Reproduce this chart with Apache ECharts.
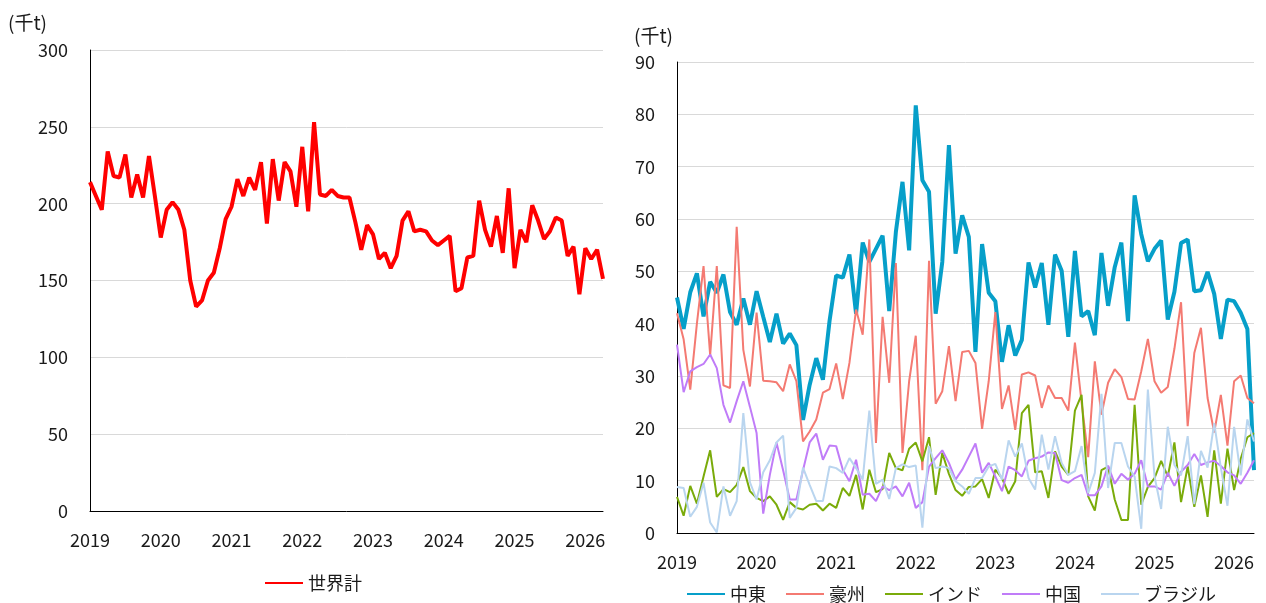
<!DOCTYPE html>
<html><head><meta charset="utf-8">
<script src="https://cdn.jsdelivr.net/npm/echarts@6/dist/echarts.min.js"></script>
<style>html,body{margin:0;padding:0;background:#fff}#c{width:1266px;height:603px}</style>
</head><body><div id="c"></div>
<script>
// months 2019-01 .. 2026-04
const months = [];
for (let y = 2019; y <= 2026; y++) for (let m = 1; m <= 12; m++) { if (y === 2026 && m > 4) break; months.push(y + '-' + (m < 10 ? '0' + m : m)); }

const worldTotal = [
 214,205,196,234,218,217,232,204,219,204,231,205,
 178,196,201,196,183,150,133,137,150,155,171,190,
 198,216,205,217,209,227,187,229,202,227,221,198,
 237,195,253,206,205,209,205,204,204,188,170,186,
 180,164,168,158,166,189,195,182,183,182,176,173,
 176,179,143,145,165,166,202,183,172,192,168,210,
 158,183,175,199,189,177,182,191,189,166,172,141,
 171,164,170,151];

const middleEast = [
 45.0,39.0,46.0,49.6,41.4,48.0,45.9,49.4,42.2,39.8,44.8,39.8,
 46.2,41.3,36.5,41.9,36.2,38.1,35.9,21.6,28.3,33.4,29.3,40.5,
 49.2,48.8,53.2,41.9,55.5,51.8,54.3,56.8,42.4,57.5,67.1,54.0,
 81.7,67.4,65.2,41.9,51.8,74.1,53.4,60.7,56.6,34.6,55.2,45.9,
 44.3,32.7,39.7,33.9,36.9,51.7,46.9,51.6,39.8,53.2,50.1,37.5,
 53.9,41.4,42.4,37.8,53.5,43.4,50.8,55.5,40.5,64.5,57.1,51.9,
 54.3,55.9,40.8,46.1,55.4,56.1,46.2,46.4,49.9,45.7,37.1,44.6,
 44.3,42.1,39.0,12.0];

const australia = [
 42,37,27.4,40,51,34,51,28.2,27.7,58.5,35,28,
 42.1,29.1,29,28.8,27.1,32.2,29.0,17.5,19.4,21.7,26.8,27.5,
 32.4,25.6,32.5,42.7,37.9,56.1,17.2,41.3,28.7,51.6,15.3,29.0,
 37.7,12.0,52.0,24.7,27.1,35.7,25.2,34.6,34.8,32.5,19.9,29.0,
 42.2,23.7,28.2,19.7,30.3,30.7,30.1,23.9,28.2,25.8,25.8,23.4,
 36.4,25,14.5,32.8,22.6,28.7,31.3,29.8,25.6,25.5,30.9,37.1,
 29.0,26.8,27.9,35.2,44.1,20.4,34.4,39.2,25.8,19.2,26.4,16.7,
 29.0,30.1,25.8,24.8];

const india = [
 6.9,3.3,9.0,5.6,10.8,15.8,6.9,8.4,7.8,9.2,12.6,8.0,
 6.7,6.1,7.0,5.4,2.5,5.9,4.8,4.5,5.4,5.6,4.3,5.6,
 4.8,8.6,7.1,11.1,4.5,12.1,7.8,8.4,15.3,12.4,12.0,16.1,
 17.3,13.7,18.3,7.3,15.3,11.3,8.2,7.1,8.8,8.9,10.3,6.7,
 12.1,10.5,7.5,9.9,22.9,24.5,11.6,11.8,6.7,15.6,12.7,11.1,
 23.4,26.4,7.0,4.3,12.0,12.7,6.4,2.5,2.5,24.5,5.4,8.8,
 10.5,13.8,10.8,17.3,5.9,12.7,5.0,11.0,3.1,15.8,5.6,16.1,
 8.2,14.2,18.3,19.1];

const china = [
 36.0,26.9,30.9,31.7,32.3,34.1,31.5,24.5,21.1,25.2,29.0,24.1,
 19.1,3.7,11.1,17.3,12,6.4,6.4,12,17.3,19.0,14.0,16.7,
 16.6,12.1,9.9,14.0,7.3,7.5,6.1,8.9,8.2,8.9,7.0,9.6,
 4.8,5.9,12.7,14.3,15.8,13.4,10.2,12.1,14.6,17.1,11.5,13.4,
 10.8,8.0,12.7,12.0,10.8,13.8,14.3,14.6,15.4,15.3,10.1,9.6,
 10.5,11.1,7.2,7.2,8.9,12.9,9.4,11.3,10.2,11.3,13.9,8.9,
 8.9,8.3,11.5,9.0,11.7,13.0,15.1,13.0,13.5,13.8,12.8,11.6,
 11.0,9.4,11.5,13.9];

const brazil = [
 8.8,8.6,3.1,5.0,9.6,2.0,0.1,8.9,3.3,6.1,22.9,9.7,
 6.4,11.6,13.9,17.3,18.6,2.9,4.8,12.5,9.2,6.1,6.1,12.7,
 12.4,11.5,14.3,12.4,10.2,23.4,9.4,10.2,6.5,12.4,13.1,12.6,
 12.9,1.0,16.6,12.4,12.7,12.4,9.9,8.9,7.5,10.5,10.5,12.7,
 13.2,10.2,17.7,14.6,17.1,10.5,8.3,18.8,12.1,18.5,13.4,11.1,
 11.8,16.6,7.6,11.5,26.6,8.6,17.2,17.2,12.7,10.8,0.8,27.4,
 10.8,4.6,20.3,13,11,18.5,5.5,15.7,12.5,21.0,12.5,5.2,
 20.3,11,21.7,17.5];

const unitLabel = '(千t)';
const leftYTicks = {min: 0, max: 300, interval: 50};
const rightYTicks = {min: 0, max: 90, interval: 10};

const FONT = '"Noto Sans CJK JP", "Noto Sans", sans-serif';
const TXT = '#1a1a1a';

const xLabel = {
  interval: function (i) { return i % 12 === 0; },
  formatter: function (v) { return v.slice(0, 4); },
  color: TXT, fontSize: 18, fontFamily: FONT, margin: 20
};
const yLabel = {color: TXT, fontSize: 18, fontFamily: FONT, margin: 22};
const gridLine = {show: true, lineStyle: {color: '#d9d9d9', width: 1}};
const axisLine = {show: true, lineStyle: {color: '#000', width: 1}};
const legendCommon = {itemWidth: 38, itemHeight: 12, itemStyle: {opacity: 0}, textStyle: {color: TXT, fontSize: 18, fontFamily: FONT}};

const chart = echarts.init(document.getElementById('c'), null, {renderer: 'canvas'});
chart.setOption({
  animation: false,
  backgroundColor: '#fff',
  textStyle: {fontFamily: FONT},
  grid: [
    {left: 90, right: 663, top: 50, bottom: 92},
    {left: 677, right: 12, top: 62, bottom: 70}
  ],
  graphic: [
    {type: 'text', left: 8, top: 13, style: {text: unitLabel, fontSize: 19, fontFamily: FONT, fill: TXT}},
    {type: 'text', left: 634, top: 26, style: {text: unitLabel, fontSize: 19, fontFamily: FONT, fill: TXT}}
  ],
  xAxis: [
    {type: 'category', gridIndex: 0, data: months, boundaryGap: false, axisTick: {show: false}, axisLine: axisLine, axisLabel: xLabel, splitLine: {show: false}},
    {type: 'category', gridIndex: 1, data: months, boundaryGap: false, axisTick: {show: false}, axisLine: axisLine, axisLabel: xLabel, splitLine: {show: false}}
  ],
  yAxis: [
    {type: 'value', gridIndex: 0, min: leftYTicks.min, max: leftYTicks.max, interval: leftYTicks.interval, axisLine: axisLine, axisTick: {show: false}, axisLabel: yLabel, splitLine: gridLine},
    {type: 'value', gridIndex: 1, min: rightYTicks.min, max: rightYTicks.max, interval: rightYTicks.interval, axisLine: axisLine, axisTick: {show: false}, axisLabel: yLabel, splitLine: gridLine}
  ],
  legend: [
    Object.assign({data: ['世界計'], left: 259, top: 569, itemGap: 24}, legendCommon),
    Object.assign({data: ['中東', '豪州', 'インド', '中国', 'ブラジル'], left: 681, top: 580, itemGap: 19}, legendCommon)
  ],
  series: [
    {name: '世界計', type: 'line', xAxisIndex: 0, yAxisIndex: 0, data: worldTotal, symbol: 'none', lineStyle: {color: '#ff0000', width: 4}, itemStyle: {color: '#ff0000'}},
    {name: '中東', type: 'line', xAxisIndex: 1, yAxisIndex: 1, data: middleEast, symbol: 'none', lineStyle: {color: '#069fc9', width: 4}, itemStyle: {color: '#069fc9'}},
    {name: '豪州', type: 'line', xAxisIndex: 1, yAxisIndex: 1, data: australia, symbol: 'none', lineStyle: {color: '#f47a72', width: 2}, itemStyle: {color: '#f47a72'}},
    {name: 'インド', type: 'line', xAxisIndex: 1, yAxisIndex: 1, data: india, symbol: 'none', lineStyle: {color: '#7aab0a', width: 2}, itemStyle: {color: '#7aab0a'}},
    {name: '中国', type: 'line', xAxisIndex: 1, yAxisIndex: 1, data: china, symbol: 'none', lineStyle: {color: '#c07cf8', width: 2}, itemStyle: {color: '#c07cf8'}},
    {name: 'ブラジル', type: 'line', xAxisIndex: 1, yAxisIndex: 1, data: brazil, symbol: 'none', lineStyle: {color: '#b9d5ef', width: 2}, itemStyle: {color: '#b9d5ef'}}
  ]
});
</script>
</body></html>
